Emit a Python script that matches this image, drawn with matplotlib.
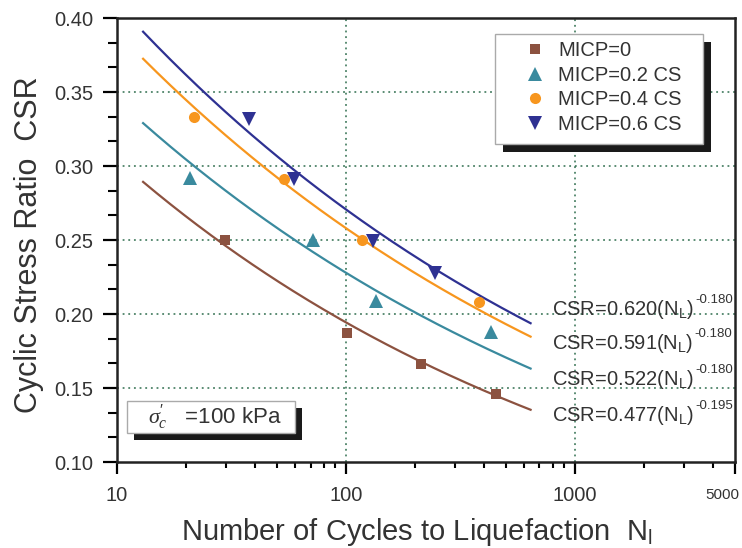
import numpy as np
import matplotlib
matplotlib.use("Agg")
import matplotlib.pyplot as plt
from matplotlib.patches import Rectangle
from matplotlib.ticker import FixedLocator, NullFormatter, MultipleLocator

plt.rcParams['font.family'] = ['Liberation Sans', 'DejaVu Sans']
plt.rcParams['mathtext.fontset'] = 'custom'
plt.rcParams['mathtext.rm'] = 'Liberation Sans'
plt.rcParams['mathtext.it'] = 'Liberation Serif:italic'

# ---- data ----
series_names = ['MICP=0', 'MICP=0.2 CS', 'MICP=0.4 CS', 'MICP=0.6 CS']
n0 = [29.6, 101, 213, 450]
csr0 = [0.250, 0.187, 0.166, 0.146]
n2 = [20.8, 71.5, 135, 428]
csr2 = [0.292, 0.250, 0.209, 0.188]
n4 = [21.8, 53.4, 117, 381]
csr4 = [0.333, 0.291, 0.250, 0.208]
n6 = [37.9, 59.4, 131, 245]
csr6 = [0.332, 0.291, 0.249, 0.228]
fit_a = [0.477, 0.522, 0.591, 0.620]
fit_b = [-0.195, -0.180, -0.180, -0.180]
fit_labels = ['0.477', '0.522', '0.591', '0.620']
fit_exps = ['-0.195', '-0.180', '-0.180', '-0.180']
fit_range = [13, 640]
xticks_major = [10, 100, 1000, 5000]
xtick_labels = ['10', '100', '1000', '5000']
yticks = [0.10, 0.15, 0.20, 0.25, 0.30, 0.35, 0.40]

colors = ['#8c5240', '#3a8a9e', '#f7961e', '#2e3192']
markers = ['s', '^', 'o', 'v']
msizes = [6.5, 9.5, 8, 9.5]
xs = [n0, n2, n4, n6]
ys = [csr0, csr2, csr4, csr6]

W, H = 742, 548
fig = plt.figure(figsize=(W / 100, H / 100), dpi=100)
L, R, T, B = 117, 735, 18, 462
ax = fig.add_axes([L / W, 1 - B / H, (R - L) / W, (B - T) / H])

ax.set_xscale('log')
ax.set_xlim(10, 5000)
ax.set_ylim(0.10, 0.40)

# fits
xf = np.logspace(np.log10(fit_range[0]), np.log10(fit_range[1]), 200)
for a, b, c in zip(fit_a, fit_b, colors):
    ax.plot(xf, a * xf ** b, color=c, lw=1.6, zorder=3)

handles = []
for x, y, c, m, s, name in zip(xs, ys, colors, markers, msizes, series_names):
    h, = ax.plot(x, y, linestyle='none', marker=m, color=c, ms=s,
                 markeredgewidth=0, label=name, zorder=4)
    handles.append(h)

# grid
gcol = '#2f6e4e'
for gx in [100, 1000]:
    ax.axvline(gx, color=gcol, ls=(0, (1.2, 2.5)), lw=1.1, zorder=1)
for gy in [0.15, 0.20, 0.25, 0.30, 0.35]:
    ax.axhline(gy, color=gcol, ls=(0, (1.2, 2.5)), lw=1.1, zorder=1)

# ticks
ax.set_xticks(xticks_major)
ax.set_xticklabels(xtick_labels[:3] + [''])
minors = [v * d for d in [10, 100, 1000] for v in range(2, 10)]
minors = [m for m in minors if m < 5000]
ax.xaxis.set_minor_locator(FixedLocator(minors))
ax.xaxis.set_minor_formatter(NullFormatter())
fig.text(739 / W, 1 - 495 / H, xtick_labels[3], ha='right', va='center',
         fontsize=11, color='#333333')
ax.set_yticks(yticks)
ax.set_yticklabels([f'{v:.2f}' for v in yticks])
ax.yaxis.set_minor_locator(MultipleLocator(0.05 / 3))

ax.tick_params(axis='y', which='major', direction='out', length=10,
               width=1.6, labelsize=14.5, labelcolor='#333333', pad=7)
ax.tick_params(axis='y', which='minor', direction='out', length=6.5, width=1.5)
ax.tick_params(axis='x', which='major', direction='out', length=8.6,
               width=1.6, labelsize=14.5, labelcolor='#333333', pad=9)
ax.tick_params(axis='x', which='minor', direction='out', length=4.5, width=1.5)
for sp in ax.spines.values():
    sp.set_linewidth(1.8)
    sp.set_color('#222222')

ax.set_ylabel('Cyclic Stress Ratio  CSR', fontsize=22, color='#333333')
ax.yaxis.set_label_coords((44 - L) / (R - L), 0.49)
ax.set_xlabel(r'Number of Cycles to Liquefaction  N$_\mathregular{l}$',
              fontsize=21, color='#333333')
ax.xaxis.set_label_coords((417 - L) / (R - L), -(516 - B) / (B - T))

# fit annotations
ann_y = [0.1277, 0.1520, 0.1764, 0.1993]
for lab, ex, yy in zip(fit_labels, fit_exps, ann_y):
    t = ax.text(794, yy,
                r'CSR=' + lab + r'(N$_\mathregular{L}$)',
                fontsize=14.5, color='#333333', ha='left', va='baseline', zorder=6)
    ax.annotate(ex, xy=(1, 1), xycoords=t, xytext=(1, -6), textcoords='offset points',
                fontsize=9.5, color='#333333', ha='left', va='bottom', zorder=6)

# legend (frame drawn manually)
lx0, lx1, ly0, ly1 = 495, 703, 34, 144
fs_leg = 14.5
em = fs_leg * 100 / 72
leg = ax.legend(handles=handles, loc='upper left',
                bbox_to_anchor=((525 - L) / (R - L), 1 - (41 - T) / (B - T)),
                borderaxespad=0, borderpad=0, fontsize=fs_leg, frameon=False,
                handlelength=1.0, handletextpad=13 / em, labelspacing=0.28,
                labelcolor='#333333')
leg.set_zorder(9)
ax.add_artist(Rectangle(((lx0 + 8) / W, 1 - (ly1 + 8) / H), (lx1 - lx0) / W, (ly1 - ly0) / H,
                        transform=fig.transFigure, facecolor='#1a1a1a', edgecolor='none',
                        zorder=7, clip_on=False))
ax.add_artist(Rectangle((lx0 / W, 1 - ly1 / H), (lx1 - lx0) / W, (ly1 - ly0) / H,
                        transform=fig.transFigure, facecolor='white', edgecolor='#aaaaaa',
                        lw=1.0, zorder=8, clip_on=False))

# sigma box
sx0, sx1, sy0, sy1 = 127, 295, 401, 433
ax.add_artist(Rectangle(((sx0 + 7) / W, 1 - (sy1 + 7) / H), (sx1 - sx0) / W, (sy1 - sy0) / H,
                        transform=fig.transFigure, facecolor='#1a1a1a', edgecolor='none',
                        zorder=7, clip_on=False))
ax.add_artist(Rectangle((sx0 / W, 1 - sy1 / H), (sx1 - sx0) / W, (sy1 - sy0) / H,
                        transform=fig.transFigure, facecolor='white', edgecolor='#aaaaaa',
                        lw=1.0, zorder=8, clip_on=False))
ax.text((sx0 + sx1) / 2 / W + 0.005, 1 - (sy0 + sy1) / 2 / H,
        r"$\sigma^{\prime}_{c}$   =100 kPa", fontsize=16, color='#333333',
        ha='center', va='center', zorder=9, transform=fig.transFigure)

fig.savefig('out.png', dpi=100)
